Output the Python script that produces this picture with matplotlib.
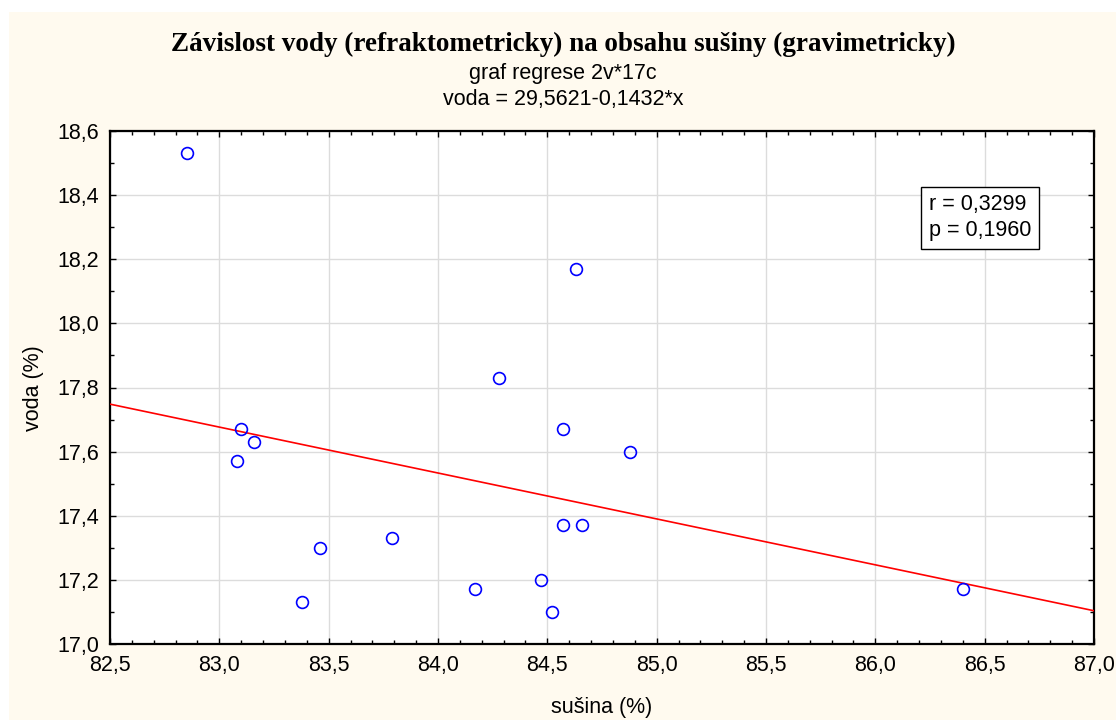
import matplotlib

matplotlib.use("Agg")
import matplotlib.pyplot as plt
from matplotlib.patches import Rectangle
from matplotlib.ticker import FuncFormatter, MultipleLocator
import numpy as np

susina = [82.85, 83.10, 83.16, 83.08, 83.46, 83.38, 83.79, 84.57, 84.88,
          84.57, 84.66, 84.17, 84.47, 84.52, 86.40, 84.63, 84.28]
voda = [18.53, 17.67, 17.63, 17.57, 17.30, 17.13, 17.33, 17.67, 17.60,
        17.37, 17.37, 17.17, 17.20, 17.10, 17.17, 18.17, 17.83]

intercept = 29.5621
slope = -0.1432
r_value = "0,3299"
p_value = "0,1960"

title = "Závislost vody (refraktometricky) na obsahu sušiny (gravimetricky)"
subtitle = "graf regrese 2v*17c"
equation = "voda = 29,5621-0,1432*x"
x_label = "sušina (%)"
y_label = "voda (%)"

SANS = ["Liberation Sans", "DejaVu Sans"]
SERIF = ["Liberation Serif", "DejaVu Serif"]
W, H = 1116, 720

fig = plt.figure(figsize=(W / 100, H / 100), dpi=100, facecolor="white")
fig.patches.append(
    Rectangle((9 / W, 0), 1 - 9 / W, 1 - 12 / H, transform=fig.transFigure,
              facecolor="#fffaef", edgecolor="none", zorder=-10)
)

ax = fig.add_axes([110 / W, (H - 644) / H, 984 / W, 513 / H])
ax.set_facecolor("white")

xs = np.array([82.5, 87.0])
ax.plot(xs, intercept + slope * xs, color="#ff0000", lw=1.2, zorder=3)
ax.plot(susina, voda, "o", mfc="none", mec="#0000ff", ms=8.5, mew=1.2, zorder=4)

ax.set_xlim(82.5, 87.0)
ax.set_ylim(17.0, 18.6)
ax.xaxis.set_major_locator(MultipleLocator(0.5))
ax.xaxis.set_minor_locator(MultipleLocator(0.1))
ax.yaxis.set_major_locator(MultipleLocator(0.2))
ax.yaxis.set_minor_locator(MultipleLocator(0.1))
comma = FuncFormatter(lambda v, _: f"{v:.1f}".replace(".", ","))
ax.xaxis.set_major_formatter(comma)
ax.yaxis.set_major_formatter(comma)

ax.tick_params(which="both", direction="in", top=True, right=True,
               color="black", width=1.0)
ax.tick_params(which="major", length=4, labelsize=15.5, pad=8)
ax.tick_params(which="minor", length=3)
for lab in ax.get_xticklabels() + ax.get_yticklabels():
    lab.set_family(SANS)
for sp in ax.spines.values():
    sp.set_linewidth(1.6)
    sp.set_color("black")
ax.grid(True, which="major", color="#dcdcdc", lw=1.0, zorder=0)
ax.set_axisbelow(True)

ax.text(0.832, 0.831, f"r = {r_value}\np = {p_value}", transform=ax.transAxes,
        ha="left", va="center", fontsize=15.5, family=SANS, linespacing=1.3,
        bbox=dict(boxstyle="square,pad=0.35", facecolor="white",
                  edgecolor="black", lw=1.0), zorder=5)

fig.text(563 / W, 1 - 44 / H, title, ha="center", va="center",
         fontsize=19.5, fontweight="bold", family=SERIF)
fig.text(563 / W, 1 - 73 / H, subtitle, ha="center", va="center",
         fontsize=15.5, family=SANS)
fig.text(563 / W, 1 - 100 / H, equation, ha="center", va="center",
         fontsize=15.5, family=SANS)
fig.text(602 / W, 1 - 708 / H, x_label, ha="center", va="center",
         fontsize=15.5, family=SANS)
fig.text(33 / W, 1 - 388 / H, y_label, ha="center", va="center",
         fontsize=15.5, family=SANS, rotation=90)

fig.savefig("out.png", dpi=100, facecolor=fig.get_facecolor())
